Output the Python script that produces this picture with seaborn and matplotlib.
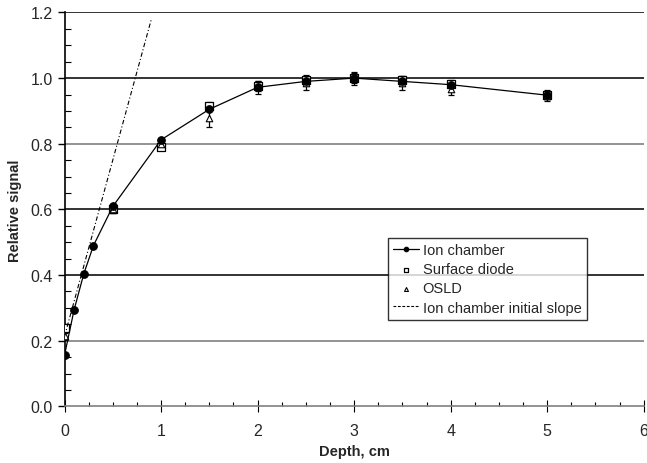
"""
Depth-signal curve: ion chamber vs surface diode vs OSLD.
"""

import pandas as pd
import seaborn as sns
import matplotlib.pyplot as plt
from matplotlib.ticker import MultipleLocator

# Ion chamber (filled circles, joined)
ic_depth = [0.0, 0.1, 0.2, 0.3, 0.5, 1.0, 1.5, 2.0, 2.5, 3.0, 3.5, 4.0, 5.0]
ic_signal = [0.156, 0.295, 0.404, 0.49, 0.609, 0.812, 0.905, 0.972, 0.99, 1.0, 0.99, 0.98, 0.948]

# Surface diode (open squares)
diode_depth = [0.0, 0.5, 1.0, 1.5, 2.0, 2.5, 3.0, 3.5, 4.0, 5.0]
diode_signal = [0.24, 0.60, 0.79, 0.916, 0.975, 0.993, 1.0, 0.995, 0.982, 0.95]
diode_err = [0.01, 0.01, 0.01, 0.012, 0.015, 0.015, 0.015, 0.012, 0.012, 0.015]

# OSLD (open triangles)
osld_depth = [0.0, 0.5, 1.0, 1.5, 2.0, 2.5, 3.0, 3.5, 4.0, 5.0]
osld_signal = [0.213, 0.60, 0.80, 0.88, 0.972, 0.985, 1.0, 0.985, 0.968, 0.945]
osld_err = [0.01, 0.01, 0.01, 0.03, 0.02, 0.02, 0.02, 0.02, 0.02, 0.015]

# Ion chamber initial slope (straight line)
slope_depth = [0.0, 0.9]
slope_signal = [0.213, 1.18]

# horizontal grid levels (the scan shows some darker than others)
grid_dark = [0.4, 0.6, 1.0, 1.2]
grid_light = [0.2, 0.8]


def main():
    sns.set_style("white")
    plt.rcParams["font.family"] = ["Liberation Sans", "DejaVu Sans"]

    fig = plt.figure(figsize=(6.47, 4.64), dpi=100)
    ax = fig.add_axes([0.0997, 0.122, 0.8953, 0.849])

    ic = pd.DataFrame({"depth": ic_depth, "signal": ic_signal})
    diode = pd.DataFrame({"depth": diode_depth, "signal": diode_signal, "err": diode_err})
    osld = pd.DataFrame({"depth": osld_depth, "signal": osld_signal, "err": osld_err})
    slope = pd.DataFrame({"depth": slope_depth, "signal": slope_signal})

    # grid lines first so data sits on top
    for v in grid_dark:
        ax.axhline(v, color="#333333", lw=1.4, zorder=0)
    for v in grid_light:
        ax.axhline(v, color="#808080", lw=1.2, zorder=0)

    ax.errorbar(osld["depth"], osld["signal"], yerr=osld["err"], fmt="none",
                ecolor="black", elinewidth=0.9, capsize=2.5, capthick=0.9, zorder=2)
    ax.errorbar(diode["depth"], diode["signal"], yerr=diode["err"], fmt="none",
                ecolor="black", elinewidth=0.9, capsize=2.5, capthick=0.9, zorder=2)

    sns.lineplot(data=ic, x="depth", y="signal", ax=ax, color="black", lw=0.9,
                 marker="o", markersize=5.5, markeredgecolor="black",
                 label="Ion chamber", zorder=4)
    sns.scatterplot(data=diode, x="depth", y="signal", ax=ax, marker="s", s=30,
                    facecolor="white", edgecolor="black", linewidth=0.9,
                    label="Surface diode", zorder=3)
    sns.scatterplot(data=osld, x="depth", y="signal", ax=ax, marker="^", s=22,
                    facecolor="white", edgecolor="black", linewidth=0.8,
                    label="OSLD", zorder=3)
    sns.lineplot(data=slope, x="depth", y="signal", ax=ax, color="black", lw=0.8,
                 label="Ion chamber initial slope", zorder=3)
    slope_line = ax.lines[-1]
    slope_line.set_dashes((4, 2, 1, 2))

    ax.set_xlim(0, 6)
    ax.set_ylim(0, 1.2)
    ax.xaxis.set_major_locator(MultipleLocator(1))
    ax.xaxis.set_minor_locator(MultipleLocator(0.25))
    ax.yaxis.set_major_locator(MultipleLocator(0.2))
    ax.yaxis.set_minor_locator(MultipleLocator(0.05))
    ax.yaxis.set_major_formatter(plt.FuncFormatter(lambda v, p: f"{v:.1f}"))

    ax.tick_params(axis="y", which="major", direction="out", length=5, width=1,
                   labelsize=11.5, color="black", left=True)
    ax.tick_params(axis="y", which="minor", direction="in", length=4, width=0.8,
                   left=True, color="black")
    ax.tick_params(axis="x", which="major", direction="inout", length=8, width=0.8,
                   labelsize=11.5, bottom=True, color="black", pad=8)
    ax.tick_params(axis="x", which="minor", direction="in", length=3, width=0.8,
                   bottom=True, color="black")

    for side in ["top", "right"]:
        ax.spines[side].set_visible(False)
    ax.spines["left"].set_color("black")
    ax.spines["left"].set_linewidth(1.2)
    ax.spines["bottom"].set_color("#808080")
    ax.spines["bottom"].set_linewidth(1.2)

    ax.set_xlabel("Depth, cm", fontsize=10.5, fontweight="bold", labelpad=4)
    ax.set_ylabel("Relative signal", fontsize=10.5, fontweight="bold", labelpad=6)

    leg = ax.legend(loc="upper left", bbox_to_anchor=(0.558, 0.427), fontsize=10.5,
                    frameon=True, fancybox=False, edgecolor="black",
                    borderpad=0.35, labelspacing=0.35, handlelength=1.8,
                    handletextpad=0.25, borderaxespad=0, markerscale=0.6)
    leg.get_frame().set_linewidth(1.0)
    leg.get_lines()[-1].set_dashes((2.5, 1.5))

    fig.savefig("out.png", dpi=100, facecolor="white")


if __name__ == "__main__":
    main()
